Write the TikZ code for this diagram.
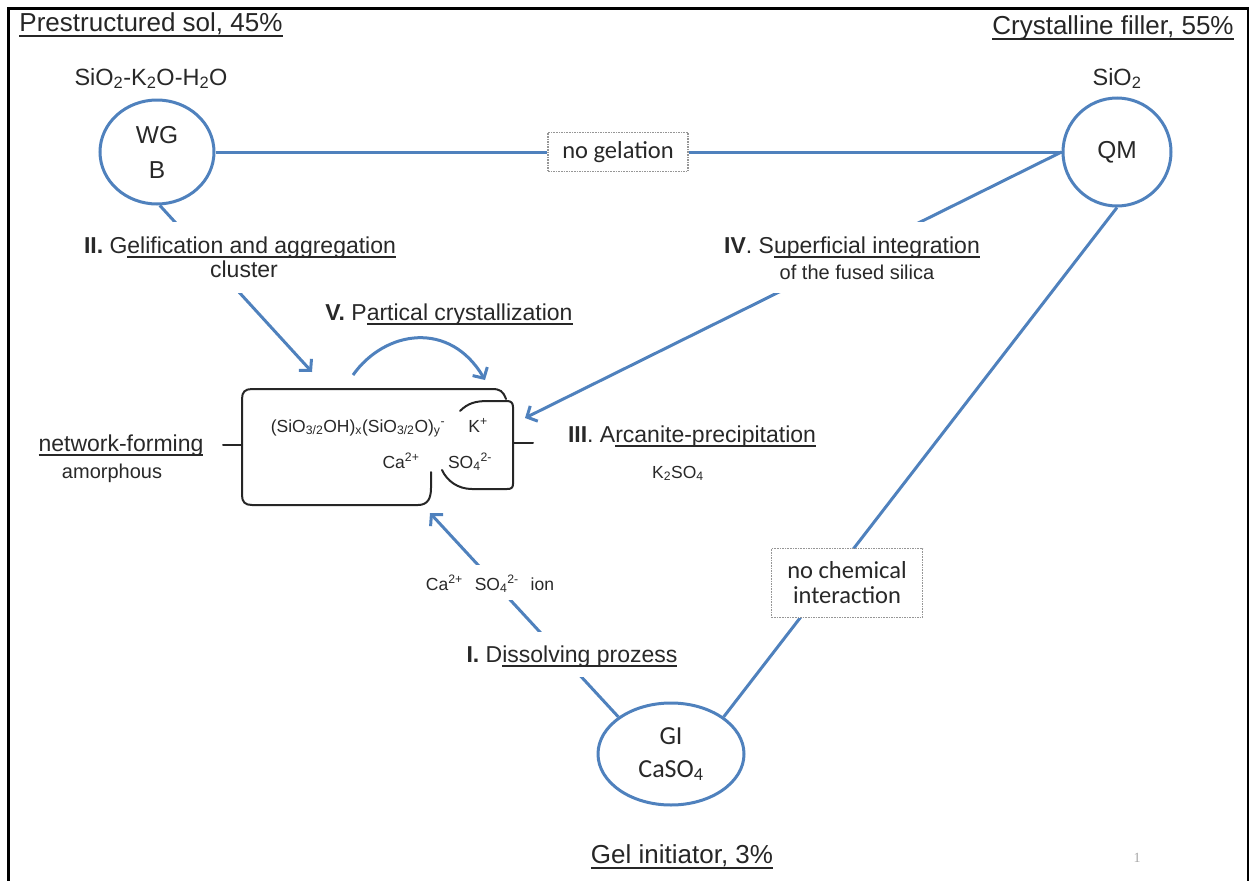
\documentclass[tikz,border=0pt]{standalone}
\usepackage{fontspec}
\setmainfont{Liberation Sans}
\newfontfamily\calib{Carlito}
\newfontfamily\serifn{Liberation Serif}
\usetikzlibrary{shapes.geometric,arrows.meta}
\definecolor{lblue}{RGB}{79,129,189}
\definecolor{txt}{RGB}{40,40,40}
\definecolor{boxgray}{RGB}{150,150,150}
\newcommand\fsz[2]{\fontsize{#1}{#2}\selectfont}
\newsavebox\ulbox
\newcommand\uln[1]{\sbox\ulbox{#1}\rlap{\rule[-0.22em]{\wd\ulbox}{0.07em}}\usebox\ulbox}
\begin{document}
\begin{tikzpicture}[x=1pt,y=-1pt,
  blu/.style={draw=lblue,line width=3pt},
  arr/.style={blu,-{Straight Barb[length=8pt,width=17pt]}},
  bub/.style={draw=lblue,line width=3pt,fill=white,text=txt,align=center,inner sep=0pt},
  lbl/.style={text=txt,inner sep=0pt,anchor=base},
  wlbl/.style={lbl,fill=white,inner xsep=4pt},
  dbox/.style={draw=boxgray,line width=1.1pt,dash pattern=on 1.6pt off 1pt,fill=white,text=txt,align=center,inner sep=0pt,font=\calib\fsz{24.5}{26}},
  brc/.style={draw=black!85,line width=2pt,line cap=round},
  title/.style={lbl,text=black!85,font=\fsz{26}{30}},
  stepl/.style={font=\fsz{23}{27}},
  small/.style={font=\fsz{17.5}{20}}
]
\useasboundingbox (0,0) rectangle (1254,881);
% frame
\draw[line width=2.7pt] (8.5,881) -- (8.5,8.5) -- (1248,8.5) -- (1248,881);

% titles
\node[title] (tps) at (151,31) {\uln{Prestructured sol, 45\%}};
\node[title] (tcf) at (1113,34) {\uln{Crystalline filler, 55\%}};
\node[title] (tgi) at (682,863) {\uln{Gel initiator, 3\%}};

% formulas above the bubbles
\node[lbl,font=\fsz{23.5}{28}] (fwg) at (151,85) {SiO\textsubscript{2}-K\textsubscript{2}O-H\textsubscript{2}O};
\node[lbl,font=\fsz{23.5}{28}] (fqm) at (1117,85) {SiO\textsubscript{2}};

% bubbles
\node[bub,ellipse,minimum width=114pt,minimum height=104pt,font=\fsz{24.5}{35}] (WG) at (157,152) {WG\\B};
\node[bub,circle,minimum size=108pt,font=\fsz{24.5}{30}] (QM) at (1117,152) {QM};
\node[bub,ellipse,minimum width=146pt,minimum height=102pt,font=\calib\fsz{26}{33}] (GI) at (671,754) {GI\\CaSO\textsubscript{4}};

% no gelation
\node[dbox,minimum width=140pt,minimum height=39pt] (nogel) at (618,152) {no gelation};
\draw[blu] (WG.east) -- (nogel);
\draw[blu] (nogel) -- (QM.west);

% QM -- GI through "no chemical interaction"
\draw[blu] (QM.south) -- (GI.north east);
\node[dbox,minimum width=151pt,minimum height=69pt,font=\calib\fsz{24.5}{25}] (nochem) at (847,583) {no chemical\\interaction};

% arrow targets
\coordinate (tipII) at (312,372);
\coordinate (tipIV) at (525,418);
\coordinate (tipI) at (430,513);
\coordinate (vs) at (353,375);
\coordinate (ve) at (485,380);

\draw[arr] (WG.-87) -- (tipII);
\draw[arr] (QM.west) -- (tipIV);
\draw[arr] (GI.north west) -- (tipI);
\draw[arr] (vs) .. controls (385,330) and (450,320) .. (ve);

% step labels sitting on the lines
\node[wlbl,stepl,text height=31pt,text depth=12pt] (sII) at (240,253) {\textbf{II.} G\uln{elification and aggregation}};
\node[wlbl,stepl,text height=12pt,text depth=16pt] (cl) at (244,277) {cluster};

\node[wlbl,stepl,text height=31pt,text depth=12pt] (sIV) at (852,253) {\textbf{IV}. S\uln{uperficial integration}};
\node[wlbl,font=\fsz{20}{24},text height=14pt,text depth=14pt,inner xsep=6pt] (ffs) at (857,279) {of the fused silica};

\node[wlbl,stepl,text height=30pt,text depth=15pt] (sI) at (572,662) {\textbf{I.} D\uln{issolving prozess}};
\node[wlbl,small,text height=25pt,text depth=10pt] (ion) at (490,590) {Ca\textsuperscript{2+}\hspace{12pt}SO\textsubscript{4}\textsuperscript{2-}\hspace{12pt}ion};

\node[lbl,stepl] (sV) at (449,320) {\textbf{V.} P\uln{artical crystallization}};
\node[lbl,stepl] (sIII) at (692,442) {\textbf{III}. A\uln{rcanite-precipitation}};
\node[lbl,small] (k2so4) at (678,478) {K\textsubscript{2}SO\textsubscript{4}};

\node[lbl,stepl] (nf) at (121,451) {\uln{network-forming}};
\node[lbl,font=\fsz{20}{24}] (am) at (112,478) {amorphous};

% bracket group
\draw[brc] (506,399) .. controls (503,391) and (500,389) .. (492,389) -- (252,389)
  .. controls (245,389) and (242,392) .. (242,399) -- (242,495)
  .. controls (242,502) and (245,505) .. (252,505) -- (418,505)
  .. controls (428,505) and (431,498) .. (431,488) -- (431,472);
\draw[brc] (223,445) -- (242,445);
\draw[brc] (460,411) .. controls (468,403) and (476,401) .. (488,401) -- (507,401)
  .. controls (511,401) and (513,403) .. (513,407) -- (513,484)
  .. controls (513,488) and (511,489) .. (507,489) -- (472,489)
  .. controls (458,489) and (447,481) .. (442,470);
\draw[brc] (513,443) -- (533,443);

\node[lbl,small] (si) at (358,432) {(SiO\textsubscript{3/2}OH)\textsubscript{x}(SiO\textsubscript{3/2}O)\textsubscript{y}\textsuperscript{-}};
\node[lbl,small] (kp) at (478,432) {K\textsuperscript{+}};
\node[lbl,small] (ca) at (401,468) {Ca\textsuperscript{2+}};
\node[lbl,small] (so) at (470,468) {SO\textsubscript{4}\textsuperscript{2-}};

% page number
\node[lbl,text=black!35,font=\serifn\fsz{14}{16}] (pg) at (1137,862) {1};
\end{tikzpicture}
\end{document}
